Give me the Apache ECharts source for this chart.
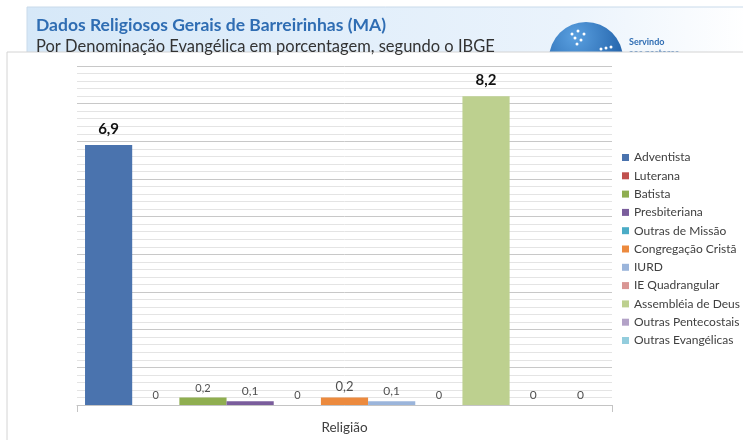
<!DOCTYPE html>
<html>
<head>
<meta charset="utf-8">
<script src="https://cdn.jsdelivr.net/npm/echarts@6/dist/echarts.min.js"></script>
<style>html,body{margin:0;padding:0;background:#fff;}#c{width:743px;height:440px;}</style>
</head>
<body>
<div id="c"></div>
<script>
var categories = ['Religião'];
var seriesNames = ['Adventista','Luterana','Batista','Presbiteriana','Outras de Missão','Congregação Cristã','IURD','IE Quadrangular','Assembléia de Deus','Outras Pentecostais','Outras Evangélicas'];
var seriesValues = [6.9, 0, 0.2, 0.1, 0, 0.2, 0.1, 0, 8.2, 0, 0];
var seriesColors = ['#4a73ae','#c0504d','#8fae50','#7a5d9c','#4bacc6','#ec8a3e','#9bb5db','#d99694','#bdd08f','#b3a2c7','#93cddd'];
var labelSizes = [15, 11, 11, 12, 11, 13, 12, 11, 15, 12, 12];
var yTicks = [0, 9, 1];

var font = 'Lato, "Open Sans", sans-serif';
var chart = echarts.init(document.getElementById('c'));
var series = seriesNames.map(function (n, i) {
  var big = labelSizes[i] >= 15;
  return {
    name: n, type: 'bar', data: [seriesValues[i]],
    barGap: '0%', barCategoryGap: '3%',
    itemStyle: { color: seriesColors[i] },
    label: {
      show: true, position: 'top', distance: big ? 8 : 4,
      fontFamily: font, fontSize: labelSizes[i], fontWeight: big ? 'bold' : 'normal',
      color: big ? '#111' : '#505050',
      formatter: function (p) { return String(p.value).replace('.', ','); }
    }
  };
});
chart.setOption({
  animation: false,
  backgroundColor: '#fff',
  title: {
    text: 'Dados Religiosos Gerais de Barreirinhas (MA)',
    subtext: 'Por Denominação Evangélica em porcentagem, segundo o IBGE',
    left: 31, top: 11, itemGap: 4, z: 3,
    textStyle: { fontFamily: font, fontSize: 17.5, fontWeight: 'bold', color: '#2f6db3' },
    subtextStyle: { fontFamily: font, fontSize: 16.5, color: '#333' }
  },
  graphic: [
    { type: 'rect', z: -5, shape: { x: 27, y: 7, width: 720, height: 50 },
      style: { fill: new echarts.graphic.LinearGradient(0, 0, 1, 0, [
        { offset: 0, color: '#d6e8f8' }, { offset: 0.75, color: '#eaf3fc' }, { offset: 1, color: '#ffffff' }]),
        stroke: '#c9daea', lineWidth: 1 } },
    { type: 'circle', z: -4, shape: { cx: 586, cy: 59, r: 37 },
      style: { fill: new echarts.graphic.RadialGradient(0.35, 0.2, 0.9, [
        { offset: 0, color: '#5aa0e0' }, { offset: 1, color: '#12509a' }]) } },
    { type: 'circle', z: -3, shape: { cx: 572, cy: 34, r: 1.5 }, style: { fill: '#fff' } },
    { type: 'circle', z: -3, shape: { cx: 578, cy: 31, r: 1.5 }, style: { fill: '#fff' } },
    { type: 'circle', z: -3, shape: { cx: 584, cy: 34, r: 1.5 }, style: { fill: '#fff' } },
    { type: 'circle', z: -3, shape: { cx: 575, cy: 38, r: 1.5 }, style: { fill: '#fff' } },
    { type: 'circle', z: -3, shape: { cx: 581, cy: 40, r: 1.5 }, style: { fill: '#fff' } },
    { type: 'circle', z: -3, shape: { cx: 577, cy: 44, r: 1.5 }, style: { fill: '#fff' } },
    { type: 'circle', z: -3, shape: { cx: 601, cy: 49, r: 1.5 }, style: { fill: '#fff' } },
    { type: 'circle', z: -3, shape: { cx: 606, cy: 48, r: 1.5 }, style: { fill: '#fff' } },
    { type: 'circle', z: -3, shape: { cx: 611, cy: 47, r: 1.5 }, style: { fill: '#fff' } },
    { type: 'text', z: -3, x: 629, y: 38, style: { text: 'Servindo', fontFamily: font, fontSize: 9, fontWeight: 'bold', fill: '#2f6db3' } },
    { type: 'text', z: -3, x: 629, y: 49, style: { text: 'aos pastores', fontFamily: font, fontSize: 9, fontWeight: 'bold', fill: '#2f6db3' } },
    { type: 'rect', z: -1, shape: { x: 7, y: 52, width: 745, height: 395 },
      style: { fill: '#ffffff', stroke: '#d4d4d4', lineWidth: 1 } }
  ],
  legend: {
    orient: 'vertical', left: 617, top: 146,
    itemWidth: 7, itemHeight: 7, itemGap: 5.3, icon: 'rect',
    textStyle: { fontFamily: font, fontSize: 12, color: '#404040', lineHeight: 13 },
    data: seriesNames
  },
  grid: { left: 77, right: 131, top: 66, bottom: 35 },
  xAxis: {
    type: 'category', data: categories, z: 1,
    axisLine: { lineStyle: { color: '#c4c4c4' } },
    axisTick: { show: true, length: 7, lineStyle: { color: '#c4c4c4' } },
    axisLabel: { margin: 16, fontFamily: font, fontSize: 13.5, color: '#404040' }
  },
  yAxis: {
    type: 'value', min: yTicks[0], max: yTicks[1], interval: yTicks[2], z: 0,
    axisLabel: { show: false }, axisLine: { show: false }, axisTick: { show: false },
    splitLine: { lineStyle: { color: '#c8c8c8' } },
    minorTick: { show: false, splitNumber: 5 },
    minorSplitLine: { show: true, lineStyle: { color: '#e4e4e4' } }
  },
  series: series
});
</script>
</body>
</html>
